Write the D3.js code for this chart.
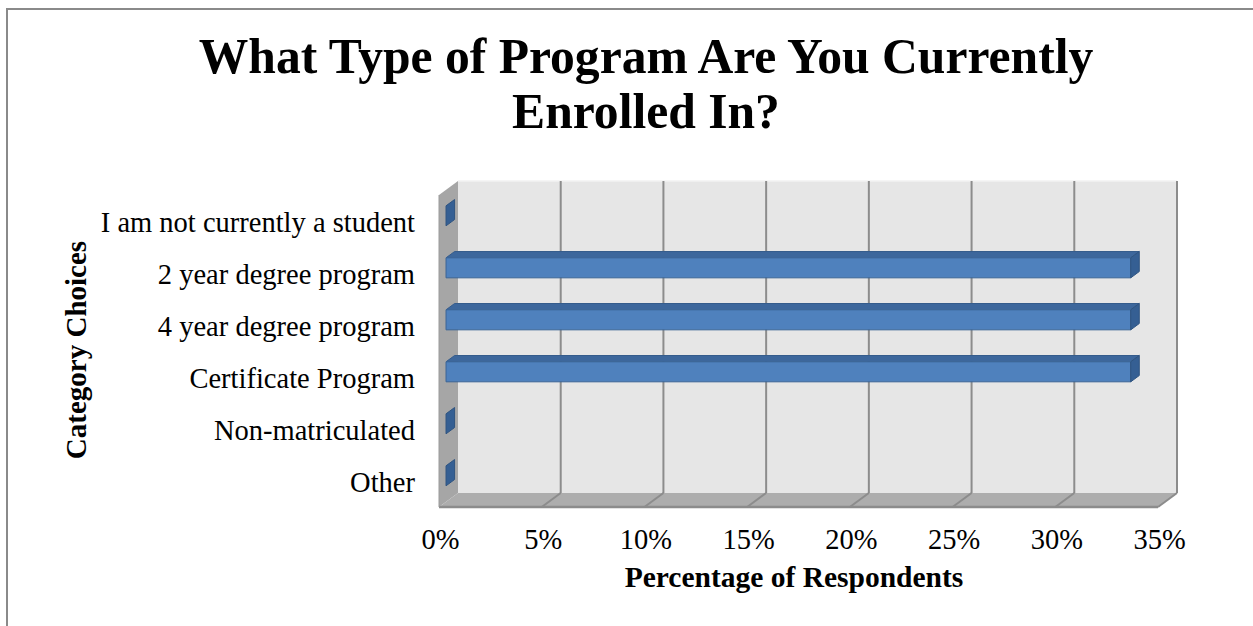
<!DOCTYPE html>
<html>
<head>
<meta charset="utf-8">
<script src="https://cdn.jsdelivr.net/npm/d3@7"></script>
<style>
  html, body { margin: 0; padding: 0; background: #ffffff; }
  svg { display: block; }
  text { font-family: "Liberation Serif", "Times New Roman", serif; fill: #000; }
</style>
</head>
<body>
<svg id="chart" width="1253" height="626"></svg>
<script>
// Survey answers: share of respondents by program type
const categories = [
  "I am not currently a student",
  "2 year degree program",
  "4 year degree program",
  "Certificate Program",
  "Non-matriculated",
  "Other"
];
const percentages = [0, 33.33, 33.33, 33.33, 0, 0];
const tickValues = [0, 5, 10, 15, 20, 25, 30, 35];
const tickLabels = ["0%", "5%", "10%", "15%", "20%", "25%", "30%", "35%"];

const svg = d3.select("#chart");
const W = 1253, H = 626;

// outer chart frame
svg.append("rect")
  .attr("x", 7).attr("y", 9)
  .attr("width", W + 10).attr("height", H + 10)
  .attr("fill", "#ffffff")
  .attr("stroke", "#8a8a8a").attr("stroke-width", 2);

// plot box (front plane) and 3D depth offset
const plot = { left: 439, right: 1158, top: 195, bottom: 507 };
const DX = 19, DY = -14;
const at = (t) => [t * DX, t * DY];

const x = d3.scaleLinear().domain([0, 35]).range([plot.left, plot.right]);
const y = d3.scaleBand().domain(categories)
  .range([plot.top, plot.bottom])
  .paddingInner(0.615).paddingOuter(0.3077);

const poly = (pts) => "M" + pts.map(p => p.join(",")).join("L") + "Z";

// walls
const walls = svg.append("g").attr("class", "walls");
const [bx, by] = at(1);
// back wall
walls.append("path")
  .attr("d", poly([[plot.left + bx, plot.top + by], [plot.right + bx, plot.top + by],
                   [plot.right + bx, plot.bottom + by], [plot.left + bx, plot.bottom + by]]))
  .attr("fill", "#e6e6e6");
walls.append("line")
  .attr("x1", plot.left + bx).attr("x2", plot.right + bx)
  .attr("y1", plot.top + by).attr("y2", plot.top + by)
  .attr("stroke", "#f2f2f2").attr("stroke-width", 1.5);
// side wall
walls.append("path")
  .attr("d", poly([[plot.left, plot.top], [plot.left + bx, plot.top + by],
                   [plot.left + bx, plot.bottom + by], [plot.left, plot.bottom]]))
  .attr("fill", "#a6a6a6");
// floor
walls.append("path")
  .attr("d", poly([[plot.left, plot.bottom], [plot.left + bx, plot.bottom + by],
                   [plot.right + bx, plot.bottom + by], [plot.right, plot.bottom]]))
  .attr("fill", "#adadad");
walls.append("line")
  .attr("x1", plot.left).attr("x2", plot.right)
  .attr("y1", plot.bottom).attr("y2", plot.bottom)
  .attr("stroke", "#8c8c8c").attr("stroke-width", 2.5);
walls.append("line")
  .attr("x1", plot.left).attr("x2", plot.left)
  .attr("y1", plot.top).attr("y2", plot.bottom)
  .attr("stroke", "#9a9a9a").attr("stroke-width", 1);

// gridlines: up the back wall and across the floor
const grid = svg.append("g").attr("class", "grid");
tickValues.forEach(v => {
  if (v === 0) return;
  grid.append("line")
    .attr("x1", x(v) + bx).attr("x2", x(v) + bx)
    .attr("y1", plot.top + by).attr("y2", plot.bottom + by)
    .attr("stroke", "#8c8c8c").attr("stroke-width", 2);
  grid.append("line")
    .attr("x1", x(v) + bx).attr("x2", x(v))
    .attr("y1", plot.bottom + by).attr("y2", plot.bottom)
    .attr("stroke", "#8c8c8c").attr("stroke-width", 2);
});

// bars: front face, top face and end cap
const T0 = 0.37, T1 = 0.82;
const [fx, fy] = at(T0);
const [kx, ky] = at(T1);
const bars = svg.append("g").attr("class", "bars");
categories.forEach((c, i) => {
  const v = percentages[i];
  const x0 = x(0) + fx, x1 = x(v) + fx;
  const yt = y(c) + fy, yb = y(c) + y.bandwidth() + fy;
  const ox = kx - fx, oy = ky - fy;
  const g = bars.append("g");
  if (v > 0) {
    g.append("path")
      .attr("d", poly([[x0, yt], [x0 + ox, yt + oy], [x1 + ox, yt + oy], [x1, yt]]))
      .attr("fill", "#3d679c").attr("stroke", "#355c8c").attr("stroke-width", 1);
    g.append("path")
      .attr("d", poly([[x0, yt], [x1, yt], [x1, yb], [x0, yb]]))
      .attr("fill", "#4f81bd").attr("stroke", "#3a6496").attr("stroke-width", 1);
  }
  g.append("path")
    .attr("d", poly([[x1, yt], [x1 + ox, yt + oy], [x1 + ox, yb + oy], [x1, yb]]))
    .attr("fill", "#355f93").attr("stroke", "#2f5480").attr("stroke-width", 1);
});

// category axis
const yAxis = svg.append("g")
  .attr("transform", `translate(${plot.left},0)`)
  .call(d3.axisLeft(y).tickSize(0).tickPadding(24));
yAxis.select(".domain").remove();
yAxis.selectAll("text")
  .attr("font-family", "Liberation Serif")
  .attr("font-size", 28.5).attr("dy", "0.4em").attr("fill", "#000");

// value axis
const xAxis = svg.append("g")
  .attr("transform", `translate(1,${plot.bottom})`)
  .call(d3.axisBottom(x).tickValues(tickValues)
    .tickFormat((d, i) => tickLabels[i]).tickSize(0).tickPadding(22));
xAxis.select(".domain").remove();
xAxis.selectAll("text")
  .attr("font-family", "Liberation Serif")
  .attr("font-size", 28.5).attr("fill", "#000");

// titles
svg.append("text")
  .attr("x", 646).attr("y", 73)
  .attr("text-anchor", "middle")
  .attr("font-weight", "bold").attr("font-size", 49.6)
  .text("What Type of Program Are You Currently");
svg.append("text")
  .attr("x", 646).attr("y", 128)
  .attr("text-anchor", "middle")
  .attr("font-weight", "bold").attr("font-size", 49.6)
  .text("Enrolled In?");
svg.append("text")
  .attr("x", 794).attr("y", 587)
  .attr("text-anchor", "middle")
  .attr("font-weight", "bold").attr("font-size", 29.5)
  .text("Percentage of Respondents");
svg.append("text")
  .attr("transform", "translate(86,350) rotate(-90)")
  .attr("text-anchor", "middle")
  .attr("font-weight", "bold").attr("font-size", 29)
  .text("Category Choices");
</script>
</body>
</html>
